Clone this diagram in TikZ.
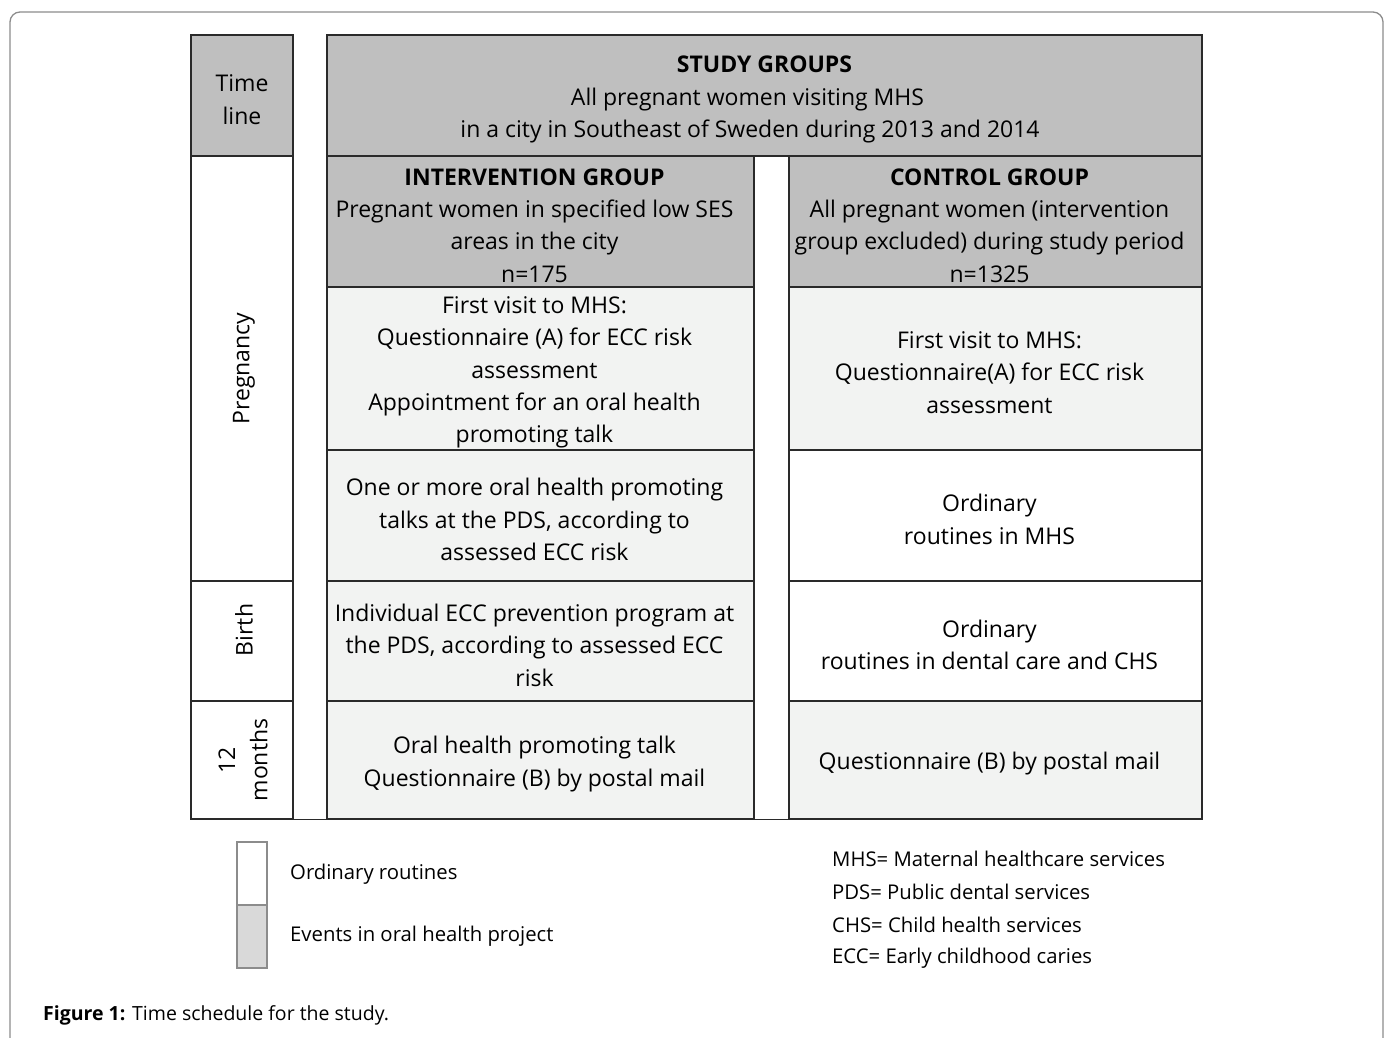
\documentclass[tikz,border=0pt]{standalone}
\usepackage{fontspec}
\setmainfont{Open Sans}
\definecolor{hdr}{HTML}{BFBFBF}
\definecolor{lite}{HTML}{F2F3F2}
\definecolor{leg}{HTML}{D9D9D9}
\definecolor{edge}{HTML}{2A2A2A}
\definecolor{frame}{HTML}{8C8C8C}
\begin{document}
\begin{tikzpicture}[x=1pt,y=-1pt,
  cell/.style={draw=edge, line width=1.1pt, inner sep=0pt},
  cellhdr/.style={cell, fill=hdr},
  celllite/.style={cell, fill=lite},
  cellwhite/.style={cell, fill=white},
  ctext/.style={align=center, inner sep=0pt, yshift=-4pt,
    font=\fontsize{23}{32.4}\selectfont},
  legtext/.style={anchor=west, inner sep=0pt, font=\fontsize{20.3}{24}\selectfont},
  vtext/.style={rotate=90, align=center, inner sep=0pt, font=\fontsize{23}{32.4}\selectfont}]
\useasboundingbox (0,0) rectangle (1389,1037);
% outer frame
\draw[frame, line width=1.3pt, rounded corners=10pt] (10,1045) -- (10,12) -- (1383,12) -- (1383,1045);

% time line column
\node[cellhdr, minimum width=102pt, minimum height=121pt] (time) at (242,95.5) {};
\node[ctext] (timet) at (time.center) {Time\\line};
\node[cellwhite, minimum width=102pt, minimum height=425pt] (preg) at (242,368.5) {};
\node[vtext] (pregt) at (244,368.5) {Pregnancy};
\node[cellwhite, minimum width=102pt, minimum height=120pt] (birth) at (242,641) {};
\node[vtext] (birtht) at (244,630) {Birth};
\node[cellwhite, minimum width=102pt, minimum height=118pt] (months) at (242,760) {};
\node[vtext] (monthst) at (243,760) {12\\months};

% study groups header
\node[cellhdr, minimum width=875pt, minimum height=121pt] (study) at (764.5,95.5) {};
\node[ctext] (studyt) at (study.center)
  {\textbf{STUDY GROUPS}\\All pregnant women visiting MHS\rule{34pt}{0pt}\\in a city in Southeast of Sweden during 2013 and 2014\rule{29pt}{0pt}};

% intervention column
\node[cellhdr, minimum width=427pt, minimum height=131pt] (ihead) at (540.5,221.5) {};
\node[ctext, xshift=-6pt] (iheadt) at (ihead.center)
  {\textbf{INTERVENTION GROUP}\\Pregnant women in specified low SES\\areas in the city\\n=175};
\node[celllite, minimum width=427pt, minimum height=163pt] (i1) at (540.5,368.5) {};
\node[ctext, xshift=-6pt] (i1t) at (i1.center)
  {First visit to MHS:\\Questionnaire (A) for ECC risk\\assessment\\Appointment for an oral health\\promoting talk};
\node[celllite, minimum width=427pt, minimum height=131pt] (i2) at (540.5,515.5) {};
\node[ctext, xshift=-6pt] (i2t) at (i2.center)
  {One or more oral health promoting\\talks at the PDS, according to\\assessed ECC risk};
\node[celllite, minimum width=427pt, minimum height=120pt] (i3) at (540.5,641) {};
\node[ctext, xshift=-6pt] (i3t) at (i3.center)
  {Individual ECC prevention program at\\the PDS, according to assessed ECC\\risk};
\node[celllite, minimum width=427pt, minimum height=118pt] (i4) at (540.5,760) {};
\node[ctext, xshift=-6pt] (i4t) at (i4.center)
  {Oral health promoting talk\\Questionnaire (B) by postal mail};

% control column
\node[cellhdr, minimum width=413pt, minimum height=131pt] (chead) at (995.5,221.5) {};
\node[ctext, xshift=-6pt] (cheadt) at (chead.center)
  {\textbf{CONTROL GROUP}\\All pregnant women (intervention\\group excluded) during study period\\n=1325};
\node[celllite, minimum width=413pt, minimum height=163pt] (c1) at (995.5,368.5) {};
\node[ctext, xshift=-6pt] (c1t) at (c1.center)
  {First visit to MHS:\\Questionnaire(A) for ECC risk\\assessment};
\node[cellwhite, minimum width=413pt, minimum height=131pt] (c2) at (995.5,515.5) {};
\node[ctext, xshift=-6pt] (c2t) at (c2.center)
  {Ordinary\\routines in MHS};
\node[cellwhite, minimum width=413pt, minimum height=120pt] (c3) at (995.5,641) {};
\node[ctext, xshift=-6pt] (c3t) at (c3.center)
  {Ordinary\\routines in dental care and CHS};
\node[celllite, minimum width=413pt, minimum height=118pt] (c4) at (995.5,760) {};
\node[ctext, xshift=-6pt] (c4t) at (c4.center)
  {Questionnaire (B) by postal mail};

% bottom line across the gaps
\draw[edge, line width=1.1pt] (months.south west) -- (c4.south east);

% legend
\node[draw=frame, line width=1.1pt, fill=white, minimum width=30pt, minimum height=63pt, inner sep=0pt] (legw) at (252,873.5) {};
\node[draw=frame, line width=1.1pt, fill=leg, minimum width=30pt, minimum height=63pt, inner sep=0pt] (legg) at (252,936.5) {};
\node[legtext] (lw) at (290,874) {Ordinary routines};
\node[legtext] (lg) at (290,936) {Events in oral health project};
\node[legtext] (a1) at (832,859) {MHS= Maternal healthcare services};
\node[legtext] (a2) at (832,892) {PDS= Public dental services};
\node[legtext] (a3) at (832,925) {CHS= Child health services};
\node[legtext] (a4) at (832,958) {ECC= Early childhood caries};

% caption
\node[legtext, font=\fontsize{19.5}{24}\selectfont] (cap) at (43,1015) {\textbf{Figure 1:} Time schedule for the study.};
\end{tikzpicture}
\end{document}
